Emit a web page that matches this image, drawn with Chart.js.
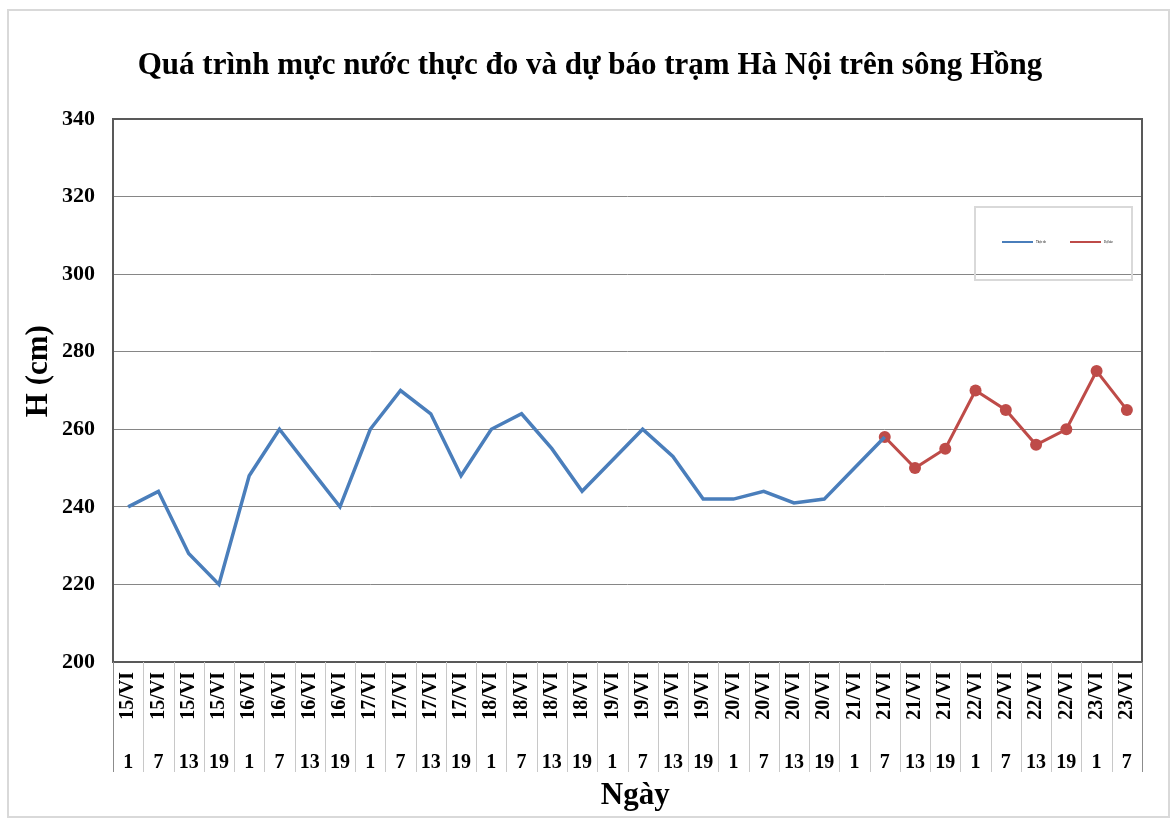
<!DOCTYPE html>
<html><head><meta charset="utf-8">
<script src="https://cdn.jsdelivr.net/npm/chart.js@4/dist/chart.umd.min.js"></script>
<style>html,body{margin:0;padding:0;background:#fff}#wrap{width:1175px;height:823px}</style>
</head><body><div id="wrap"><canvas id="c" width="1175" height="823"></canvas></div>
<script>
const dateLabels = ['15/VI','15/VI','15/VI','15/VI','16/VI','16/VI','16/VI','16/VI','17/VI','17/VI','17/VI','17/VI','18/VI','18/VI','18/VI','18/VI','19/VI','19/VI','19/VI','19/VI','20/VI','20/VI','20/VI','20/VI','21/VI','21/VI','21/VI','21/VI','22/VI','22/VI','22/VI','22/VI','23/VI','23/VI'];
const hourLabels = ['1','7','13','19','1','7','13','19','1','7','13','19','1','7','13','19','1','7','13','19','1','7','13','19','1','7','13','19','1','7','13','19','1','7'];
const observed = [240,244,228,220, 248,260,250,240, 260,270,264,248, 260,264,255,244, 252,260,253,242, 242,244,241,242, 250,258, null,null, null,null,null,null, null,null];
const forecast = [null,null,null,null, null,null,null,null, null,null,null,null, null,null,null,null, null,null,null,null, null,null,null,null, null,258,250,255, 270,265,256,260, 275,265];
const yMin = 200, yMax = 340, yStep = 20;
const titleText = 'Quá trình mực nước thực đo và dự báo trạm Hà Nội trên sông Hồng';
const yTitle = '     H (cm)';
const xTitle = '  Ngày';
const seriesNames = ['Thực đo', 'Dự báo'];

const SERIF = '"Liberation Serif", "Times New Roman", serif';

const decor = {
  id: 'decor',
  beforeDraw(chart) {
    const ctx = chart.ctx;
    ctx.save();
    ctx.fillStyle = '#fff';
    ctx.fillRect(0, 0, chart.width, chart.height);
    ctx.strokeStyle = '#d9d9d9';
    ctx.lineWidth = 2;
    ctx.strokeRect(8, 10, chart.width - 14, chart.height - 16);
    ctx.restore();
  },
  beforeDatasetsDraw(chart) {
    const ctx = chart.ctx, a = chart.chartArea;
    ctx.save();
    ctx.strokeStyle = '#595959';
    ctx.lineWidth = 2;
    ctx.strokeRect(a.left, a.top, a.right - a.left, a.bottom - a.top);
    ctx.restore();
  },
  afterDraw(chart) {
    const ctx = chart.ctx, a = chart.chartArea;
    const xs = chart.scales.x, hs = chart.scales.x2;
    const n = dateLabels.length;
    const w = (xs.right - xs.left) / n;
    const bottom = hs.top + 30;
    ctx.save();
    ctx.lineWidth = 1;
    for (let i = 0; i <= n; i++) {
      const x = Math.round(xs.left + i * w) + 0.5;
      ctx.strokeStyle = (i === 0 || i === n) ? '#8c8c8c' : '#c8c8c8';
      ctx.beginPath();
      ctx.moveTo(x, a.bottom);
      ctx.lineTo(x, bottom);
      ctx.stroke();
    }
    // legend box
    const lx = 975, ly = 207, lw = 157, lh = 73;
    ctx.strokeStyle = '#d9d9d9';
    ctx.lineWidth = 2;
    ctx.strokeRect(lx, ly, lw, lh);
    const ds = chart.data.datasets;
    const starts = [lx + 27, lx + 95];
    ds.forEach((d, i) => {
      const x0 = starts[i], y0 = ly + 35;
      ctx.strokeStyle = d.borderColor;
      ctx.lineWidth = 2;
      ctx.beginPath();
      ctx.moveTo(x0, y0);
      ctx.lineTo(x0 + 31, y0);
      ctx.stroke();
      ctx.fillStyle = '#000';
      ctx.font = '3px ' + SERIF;
      ctx.textBaseline = 'middle';
      ctx.fillText(d.label, x0 + 34, y0);
    });
    ctx.restore();
  }
};

new Chart(document.getElementById('c'), {
  type: 'line',
  data: {
    labels: dateLabels,
    datasets: [
      {
        label: seriesNames[0],
        data: observed,
        borderColor: '#4a7ebb',
        backgroundColor: '#4a7ebb',
        borderWidth: 3.5,
        pointRadius: 0,
        tension: 0,
        spanGaps: false,
        xAxisID: 'x', yAxisID: 'y'
      },
      {
        label: seriesNames[1],
        data: forecast,
        borderColor: '#be4b48',
        backgroundColor: '#be4b48',
        borderWidth: 3,
        pointRadius: 6,
        pointBorderWidth: 0,
        pointBackgroundColor: '#be4b48',
        tension: 0,
        xAxisID: 'x', yAxisID: 'y'
      }
    ]
  },
  options: {
    responsive: false,
    animation: false,
    devicePixelRatio: 1,
    layout: { padding: { left: 10, right: 5, top: 0, bottom: 5 } },
    plugins: {
      legend: { display: false },
      tooltip: { enabled: false },
      title: {
        display: true,
        text: titleText,
        color: '#000',
        font: { family: SERIF, size: 31, weight: 'bold', lineHeight: 1.2 },
        padding: { top: 47, bottom: 34.8 }
      }
    },
    scales: {
      x: {
        type: 'category',
        position: 'bottom',
        weight: 0,
        offset: true,
        labels: dateLabels,
        grid: { display: false, drawTicks: false },
        border: { display: false },
        ticks: {
          autoSkip: false, minRotation: 90, maxRotation: 90,
          color: '#000', padding: 10,
          font: { family: SERIF, size: 20, weight: 'bold' }
        },
        afterFit(s) { s.height = 80; }
      },
      x2: {
        type: 'category',
        position: 'bottom',
        weight: 1,
        offset: true,
        labels: hourLabels,
        grid: { display: false, drawTicks: false },
        border: { display: false },
        ticks: {
          autoSkip: false, maxRotation: 0, minRotation: 0,
          color: '#000', padding: 9,
          font: { family: SERIF, size: 20, weight: 'bold' }
        },
        title: {
          display: true, text: xTitle, color: '#000',
          font: { family: SERIF, size: 31, weight: 'bold', lineHeight: 1.2 },
          padding: { top: 0, bottom: 3 }
        },
        afterFit(s) { s.height = 76; }
      },
      y: {
        type: 'linear',
        position: 'left',
        min: yMin, max: yMax,
        ticks: {
          stepSize: yStep, color: '#000', padding: 18,
          font: { family: SERIF, size: 22, weight: 'bold' }
        },
        grid: { color: '#868686', lineWidth: 1, drawTicks: false },
        border: { display: false },
        title: {
          display: true, text: yTitle, color: '#000',
          font: { family: SERIF, size: 31, weight: 'bold', lineHeight: 1.2 },
          padding: { top: 10, bottom: 0 }
        },
        afterFit(s) { s.width = 103; }
      },
      yR: {
        type: 'linear',
        position: 'right',
        display: true,
        min: yMin, max: yMax,
        ticks: { display: false },
        grid: { display: false, drawTicks: false },
        border: { display: false },
        afterFit(s) { s.width = 28; }
      }
    }
  },
  plugins: [decor]
});
</script></body></html>
